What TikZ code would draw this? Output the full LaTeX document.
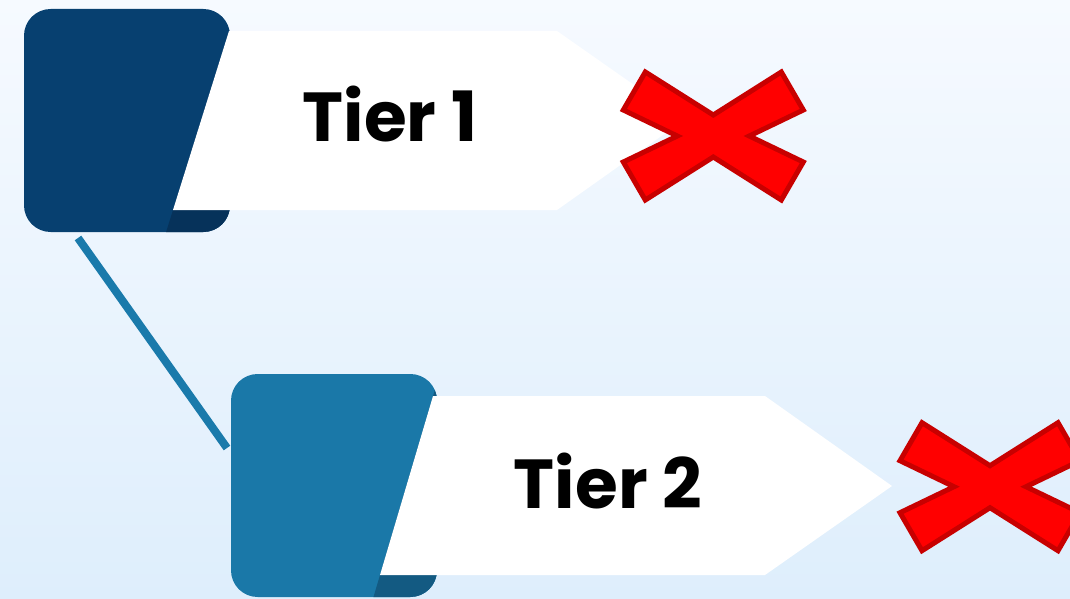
\documentclass[tikz,border=0pt]{standalone}
\usepackage{fontspec}
\newfontfamily\pop{Poppins}
\definecolor{bgtop}{RGB}{246,250,255}
\definecolor{bgbot}{RGB}{222,238,252}
\definecolor{darkA}{RGB}{7,64,112}
\definecolor{darkAb}{RGB}{6,50,90}
\definecolor{blueB}{RGB}{26,120,168}
\definecolor{blueBb}{RGB}{19,90,130}
\definecolor{connc}{RGB}{26,122,171}
\definecolor{xfill}{RGB}{255,0,0}
\definecolor{xline}{RGB}{200,0,0}
\tikzset{
  conn/.style={draw=connc,line width=6pt},
  banner/.style={fill=white},
  tierlabel/.style={font=\pop\bfseries\fontsize{52}{58}\selectfont,anchor=base,inner sep=0pt},
  xmark/.style={fill=xfill,draw=xline,line width=3.75pt,line join=miter},
  redx/.pic={\path[xmark] (-68,-64) -- (0,-21) -- (68,-64) -- (90,-26) -- (36,0) -- (90,26) -- (68,64) -- (0,21) -- (-68,64) -- (-90,26) -- (-36,0) -- (-90,-26) -- cycle;}
}
\begin{document}
\begin{tikzpicture}[x=0.75pt,y=-0.75pt]
\shade[top color=bgtop,bottom color=bgbot] (0,0) rectangle (1070,599);
\useasboundingbox (0,0) rectangle (1070,599);
% connector
\coordinate (c1) at (78,238);
\coordinate (c2) at (227,448);
\draw[conn] (c1) -- (c2);
% tier 1 square
\begin{scope}
  \clip[rounded corners=20pt] (24,9) rectangle (230,232);
  \fill[darkA] (0,0) rectangle (300,300);
  \fill[darkAb] (239,0) -- (163.6,240) -- (300,240) -- (300,0) -- cycle;
\end{scope}
\fill[banner] (229,31) -- (557,31) -- (684,120) -- (557,210) -- (173,210) -- cycle;
\node[tierlabel] (t1) at (390,142) {Tier 1};
\pic (x1) at (713.3,136) {redx};
% tier 2 square
\begin{scope}
  \clip[rounded corners=20pt] (231,374) rectangle (437,597);
  \fill[blueB] (200,350) rectangle (500,620);
  \fill[blueBb] (443.7,360) -- (372.6,600) -- (500,600) -- (500,360) -- cycle;
\end{scope}
\fill[banner] (433,396) -- (765,396) -- (892,486) -- (765,575) -- (380,575) -- cycle;
\node[tierlabel] (t2) at (608,508) {Tier 2};
\pic (x2) at (990,486.7) {redx};
\end{tikzpicture}
\end{document}
